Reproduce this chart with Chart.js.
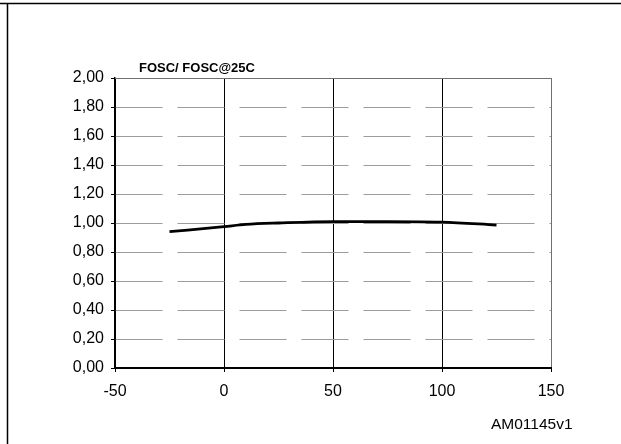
<!DOCTYPE html>
<html>
<head>
<meta charset="utf-8">
<script src="https://cdn.jsdelivr.net/npm/chart.js@4"></script>
<style>
  html, body { margin: 0; padding: 0; background: #fff; }
  #wrap { width: 621px; height: 444px; position: relative; }
</style>
</head>
<body>
<div id="wrap"><canvas id="c" width="621" height="444"></canvas></div>
<script>
const temperatures = [-25, 0, 10, 25, 50, 75, 100, 125];
const ratios = [0.94, 0.975, 0.99, 1.0, 1.01, 1.01, 1.006, 0.986];
const xTicks = [-50, 0, 50, 100, 150];
const yTicks = [0, 0.2, 0.4, 0.6, 0.8, 1.0, 1.2, 1.4, 1.6, 1.8, 2.0];
const chartTitle = 'FOSC/ FOSC@25C';
const figureId = 'AM01145v1';

const FONT = "'Liberation Sans', Arial, sans-serif";

const framePlugin = {
  id: 'frame',
  afterDraw(chart) {
    const ctx = chart.ctx;
    const a = chart.chartArea;
    ctx.save();
    ctx.strokeStyle = '#707070';
    ctx.lineWidth = 1;
    ctx.beginPath();
    ctx.moveTo(a.left, Math.round(a.top) + 0.5);
    ctx.lineTo(a.right, Math.round(a.top) + 0.5);
    ctx.stroke();
    ctx.strokeStyle = '#000';
    ctx.lineWidth = 1.5;
    ctx.beginPath();
    ctx.moveTo(0, 3.5); ctx.lineTo(621, 3.5);
    ctx.moveTo(7.5, 3); ctx.lineTo(7.5, 444);
    ctx.stroke();
    ctx.fillStyle = '#000';
    ctx.font = "bold 13px " + FONT;
    ctx.textAlign = 'left';
    ctx.textBaseline = 'middle';
    ctx.fillText(chartTitle, 139, 68);
    ctx.font = "15.5px " + FONT;
    ctx.fillText(figureId, 491, 425);
    ctx.restore();
  }
};

new Chart(document.getElementById('c'), {
  type: 'line',
  data: {
    datasets: [{
      data: temperatures.map((t, i) => ({ x: t, y: ratios[i] })),
      borderColor: '#000',
      borderWidth: 2.8,
      pointRadius: 0,
      tension: 0.4,
      cubicInterpolationMode: 'monotone',
      fill: false
    }]
  },
  options: {
    responsive: false,
    animation: false,
    devicePixelRatio: 1,
    layout: { padding: { left: 0, top: 78, right: 70, bottom: 0 } },
    plugins: { legend: { display: false }, tooltip: { enabled: false }, title: { display: false } },
    scales: {
      x: {
        type: 'linear',
        min: -50, max: 150,
        afterBuildTicks(scale) { scale.ticks = xTicks.map(v => ({ value: v })); },
        afterFit(scale) { scale.height = 76; },
        ticks: {
          color: '#000',
          font: { family: FONT, size: 16 },
          padding: 10,
          maxRotation: 0,
          autoSkip: false
        },
        grid: {
          color: (c) => (c.tick && c.tick.value === 150) ? '#707070' : '#000',
          lineWidth: 1,
          tickLength: 4,
          tickColor: '#000',
          drawOnChartArea: true
        },
        border: { color: '#000', width: 2 }
      },
      y: {
        min: 0, max: 2,
        afterBuildTicks(scale) { scale.ticks = yTicks.map(v => ({ value: v })); },
        afterFit(scale) { scale.width = 115; },
        ticks: {
          color: '#000',
          font: { family: FONT, size: 16 },
          padding: 7,
          autoSkip: false,
          callback: (v) => Number(v).toFixed(2).replace('.', ',')
        },
        grid: {
          color: (c) => (c.tick && (Math.abs(c.tick.value - 2) < 1e-6 || c.tick.value === 0)) ? 'rgba(0,0,0,0)' : '#9c9c9c',
          lineWidth: 1,
          tickLength: 4,
          tickColor: '#000',
          tickBorderDash: []
        },
        border: { color: '#000', width: 1.5, dash: [47, 15] }
      }
    }
  },
  plugins: [framePlugin]
});
</script>
</body>
</html>
